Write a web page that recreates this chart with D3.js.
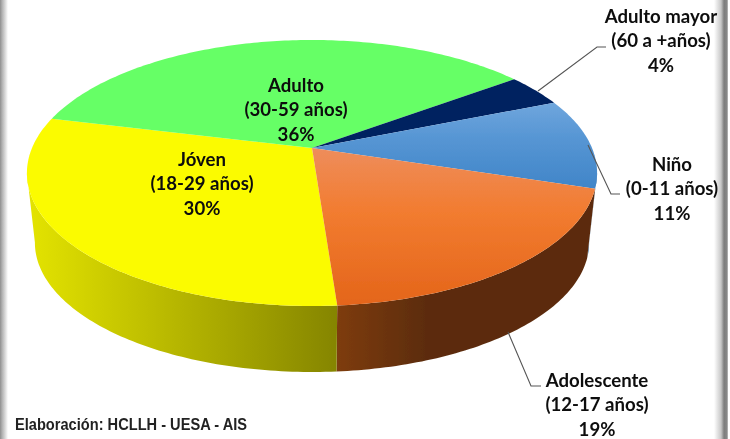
<!DOCTYPE html>
<html>
<head>
<meta charset="utf-8">
<style>html,body{margin:0;padding:0;background:#fff}svg{display:block}</style>
<script src="https://cdn.jsdelivr.net/npm/d3@7"></script>
</head>
<body>
<svg id="c" width="730" height="439"></svg>
<script>
const categories = ["Jóven","Adulto","Adulto mayor","Niño","Adolescente"];
const ranges = ["(18-29 años)","(30-59 años)","(60 a +años)","(0-11 años)","(12-17 años)"];
const values = [30,36,4,11,19];
const topColors = [["#fbfb00","#fbfb00","#fbfb00"],["#66ff66","#66ff66","#66ff66"],["#002060","#002060","#002060"],["#6fa6dd","#5796d4","#4085c8"],["#ee8d5c","#f27c30","#e4651a"]];
const sideColors = [["#e4e400","#858500"],["#2fa02f","#2fa02f"],["#001030","#001030"],["#2c5f90","#245080"],["#7e3c10","#5c2c0c"]];
const labelX = [202,296,661,672,597];
const labelY = [166,92,23,171,387];
const leaders = [null,null,[[538,91],[597,47],[606,47]],[[588,145],[611,194],[620,194]],[[508,332],[531,386],[541,386]]];
const note = "Elaboración: HCLLH - UESA - AIS";

const svg = d3.select("#c");
const defs = svg.append("defs");
const soft = defs.append("filter").attr("id","soft").attr("x","-5%").attr("y","-5%").attr("width","110%").attr("height","110%");
soft.append("feGaussianBlur").attr("stdDeviation",0.35);
const fade = (id,x1,x2,stops)=>{
  const g = defs.append("linearGradient").attr("id",id).attr("gradientUnits","userSpaceOnUse")
    .attr("x1",x1).attr("x2",x2).attr("y1",0).attr("y2",0);
  stops.forEach(s=>g.append("stop").attr("offset",s[0]).attr("stop-color",s[1]));
};
fade("frameL",0,8,[[0,"#8f8f8f"],[0.3,"#b5b5b5"],[1,"#ffffff"]]);
fade("frameR",714,728,[[0,"#ffffff"],[0.5,"#c8c8c8"],[0.72,"#7d7d7d"],[0.95,"#8a8a8a"],[1,"#ffffff"]]);
svg.append("rect").attr("width",8).attr("height",439).attr("fill","url(#frameL)");
svg.append("rect").attr("x",714).attr("width",14).attr("height",439).attr("fill","url(#frameR)");

const root = svg.append("g").attr("filter","url(#soft)");

// projective view of the disc
const cx=312, cy=148, A=280, B=128.3, k=0.188, shrink=0.972, drop=70.4;
const proj=(a,bottom)=>{
  const u=Math.sin(a), v=-Math.cos(a), s=1/(1-k*v);
  const x=A*u*s, y=B*v*s;
  return bottom ? [cx+x*shrink, cy+y*shrink+drop] : [cx+x, cy+y];
};
const rad=d3.scaleLinear().domain([0,180]).range([0,Math.PI]);
const pie=d3.pie().sort(null).startAngle(rad(175.8)).endAngle(rad(175.8)+2*Math.PI);
const arcs=pie(values);
const line=d3.line();
const sampleRange=(a0,a1)=>{
  const n=Math.max(8,Math.ceil((a1-a0)*60));
  return d3.range(n+1).map(i=>a0+(a1-a0)*i/n);
};
const samples=d=>sampleRange(d.startAngle,d.endAngle);

// silhouette: the walls run only between the widest points of the disc
const sweep=d3.range(0,3600).map(i=>i*Math.PI/1800);
const aRight=sweep[d3.greatestIndex(sweep,a=>proj(a,false)[0])];
const aLeft=sweep[d3.leastIndex(sweep,a=>proj(a,false)[0])];

arcs.forEach((d,i)=>{
  const sid="side"+i, tid="top"+i;
  const tp=samples(d).map(a=>proj(a,false));
  const bt=samples(d).map(a=>proj(a,true));
  const xs=tp.concat(bt).map(p=>p[0]), ys=tp.map(p=>p[1]).concat([cy]);
  const g1=defs.append("linearGradient").attr("id",sid).attr("gradientUnits","userSpaceOnUse")
    .attr("x1",d3.min(xs)).attr("x2",i===4?d3.min(xs)+90:d3.max(xs)).attr("y1",0).attr("y2",0);
  g1.append("stop").attr("offset",0).attr("stop-color",sideColors[i][0]);
  g1.append("stop").attr("offset",1).attr("stop-color",sideColors[i][1]);
  const g2=defs.append("linearGradient").attr("id",tid).attr("gradientUnits","userSpaceOnUse")
    .attr("x1",0).attr("x2",0).attr("y1",d3.min(ys)).attr("y2",d3.max(ys));
  [0,0.4,1].forEach((o,j)=>g2.append("stop").attr("offset",o).attr("stop-color",topColors[i][j]));
});

// walls, clipped to the visible front arc
[3,4,0].forEach(i=>{
  const d=arcs[i];
  const turn=d.startAngle>=2*Math.PI?2*Math.PI:0;
  const a0=Math.max(d.startAngle-turn,aRight), a1=Math.min(d.endAngle-turn,aLeft);
  if(a1<=a0) return;
  const t=sampleRange(a0,a1);
  root.append("path").attr("d",line(t.map(a=>proj(a,false)).concat(t.slice().reverse().map(a=>proj(a,true))))+"Z")
    .attr("fill","url(#side"+i+")");
});
// upper faces
arcs.forEach((d,i)=>{
  root.append("path").attr("d",line([[cx,cy]].concat(samples(d).map(a=>proj(a,false))))+"Z")
    .attr("fill","url(#top"+i+")");
});
// leader lines
leaders.forEach(l=>{ if(l) root.append("path").attr("d",line(l)).attr("fill","none").attr("stroke","#555").attr("stroke-width",1.1); });
// labels
categories.forEach((c,i)=>{
  const t=root.append("text").attr("text-anchor","middle").attr("font-family","Lato, sans-serif").attr("font-weight",700)
    .attr("font-size",18.6).attr("fill","#0c0c0c");
  [c,ranges[i],values[i]+"%"].forEach((s,j)=>t.append("tspan").attr("x",labelX[i]).attr("y",labelY[i]+j*24.3).text(s));
});
root.append("text").attr("x",15).attr("y",430).attr("font-family","'Liberation Sans', Arial, sans-serif")
  .attr("font-weight",700).attr("font-size",16.3).attr("fill","#222").attr("textLength",232).attr("lengthAdjust","spacingAndGlyphs").text(note);
</script>
</body>
</html>
